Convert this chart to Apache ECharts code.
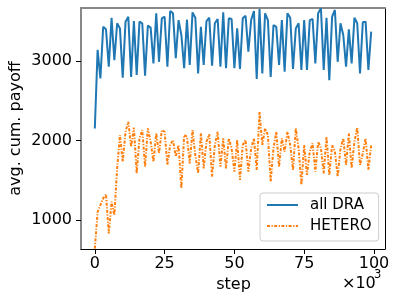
<!DOCTYPE html>
<html>
<head>
<meta charset="utf-8">
<script src="https://cdn.jsdelivr.net/npm/echarts@6.0.0/dist/echarts.min.js"></script>
<style>
html,body{margin:0;padding:0;background:#fff;}
#c{width:399px;height:303px;}
</style>
</head>
<body>
<div id="c"></div>
<script>
// step (x 10^3)
var steps = [0,1,2,3,4,5,6,7,8,9,10,11,12,13,14,15,16,17,18,19,20,21,22,23,24,25,26,27,28,29,30,31,32,33,34,35,36,37,38,39,40,41,42,43,44,45,46,47,48,49,50,51,52,53,54,55,56,57,58,59,60,61,62,63,64,65,66,67,68,69,70,71,72,73,74,75,76,77,78,79,80,81,82,83,84,85,86,87,88,89,90,91,92,93,94,95,96,97,98,99];
var allDRA = [2150,3140,2780,3430,3400,2930,3545,3010,3475,3410,2790,3495,3557,2800,3503,2824,3495,3475,2815,3445,3420,2970,3600,2990,3537,3557,2930,3630,3600,3035,3515,3327,2910,3520,2950,3612,3545,2845,3430,2950,3503,3545,2940,3475,3528,2930,3612,2910,3537,3528,2910,3410,2900,3537,3570,3117,3515,3630,2773,3655,2845,3600,3515,2800,3453,3430,2950,3515,2865,3600,3545,2900,3410,3475,2887,3515,2887,3515,3528,2970,3600,3663,2887,3545,2760,3557,3642,2990,3475,3327,2930,3400,2970,3545,3475,2845,3487,3495,2887,3370];
var hetero = [640,1100,1188,1273,1323,830,1230,1063,1650,2069,1733,2110,2236,1922,2161,1587,2027,2132,1670,2153,1985,1733,2090,1839,2132,2110,1692,1943,2006,1797,1943,1399,2069,2048,1713,2132,1817,1587,2090,1650,1985,2078,1545,1943,2110,1670,2027,1650,2027,1902,1608,2006,1503,1943,2006,1608,1902,2027,1629,2362,1943,2153,2069,1482,1902,2110,1670,2027,1860,2110,1943,1629,2153,1902,1440,1943,1566,1860,1964,1608,1985,1902,1587,2048,1566,1943,1860,1545,1902,2027,1692,2090,1650,1985,2161,1692,1839,2027,1629,1943];
var xTicks = [0,25,50,75,100];
var yTicks = [1000,2000,3000];

function pairs(xs, ys){ return xs.map(function(x,i){ return [x, ys[i]]; }); }

var chart = echarts.init(document.getElementById('c'), null, {renderer:'canvas'});
var font = 'DejaVu Sans';
chart.setOption({
  animation: false,
  backgroundColor: '#fff',
  textStyle: {fontFamily: font},
  grid: {left: 81, right: 14, top: 8, bottom: 54, containLabel: false},
  xAxis: [{
    type: 'value', min: -4.95, max: 103.95, position: 'bottom',
    axisLine: {show: true, onZero: false, lineStyle: {color: '#000', width: 1}},
    axisTick: {show: true, customValues: xTicks, length: 5, lineStyle: {color: '#000', width: 1}},
    axisLabel: {customValues: xTicks, fontSize: 16, color: '#000', margin: 7, fontFamily: font,
      formatter: function(v){ return String(v); }},
    splitLine: {show: false}
  },{
    type: 'value', min: -4.95, max: 103.95, position: 'top',
    axisLine: {show: true, onZero: false, lineStyle: {color: '#888', width: 2}},
    axisTick: {show: false}, axisLabel: {show: false}, splitLine: {show: false}
  }],
  yAxis: [{
    type: 'value', min: 635, max: 3667, position: 'left',
    axisLine: {show: true, onZero: false, lineStyle: {color: '#888', width: 2}},
    axisTick: {show: true, customValues: yTicks, length: 5, lineStyle: {color: '#000', width: 1}},
    axisLabel: {customValues: yTicks, fontSize: 16, color: '#000', margin: 9, fontFamily: font,
      formatter: function(v){ return String(v); }},
    splitLine: {show: false}
  },{
    type: 'value', min: 635, max: 3667, position: 'right',
    axisLine: {show: true, onZero: false, lineStyle: {color: '#000', width: 1}},
    axisTick: {show: false}, axisLabel: {show: false}, splitLine: {show: false}
  }],
  legend: {
    left: 260, top: 193, orient: 'vertical',
    data: ['all DRA', 'HETERO'],
    itemWidth: 31, itemHeight: 12, itemGap: 5,
    padding: [4, 7, 7, 6],
    borderColor: '#cccccc', borderWidth: 1, borderRadius: 3,
    backgroundColor: 'rgba(255,255,255,0.8)',
    itemStyle: {opacity: 0},
    textStyle: {fontSize: 15, color: '#000', fontFamily: font, lineHeight: 16, padding: [0,0,0,7]}
  },
  series: [{
    name: 'all DRA', type: 'line', data: pairs(steps, allDRA),
    showSymbol: false, symbol: 'none',
    lineStyle: {color: '#1f77b4', width: 2}, itemStyle: {color: '#1f77b4'}
  },{
    name: 'HETERO', type: 'line', data: pairs(steps, hetero),
    showSymbol: false, symbol: 'none',
    lineStyle: {color: '#ff7f0e', width: 2, type: [3, 1.5, 1.2, 1.5]}, itemStyle: {color: '#ff7f0e'}
  }],
  graphic: [
    {type: 'text', x: 15.5, y: 128.5, rotation: Math.PI/2,
     style: {text: 'avg. cum. payoff', fontSize: 16, fill: '#000', fontFamily: font, textAlign: 'center', textVerticalAlign: 'middle'}},
    {type: 'text', x: 233.5, y: 285, 
     style: {text: 'step', fontSize: 16, fill: '#000', fontFamily: font, textAlign: 'center', textVerticalAlign: 'middle'}},
    {type: 'text', x: 342, y: 283.5,
     style: {text: '×10', fontSize: 16, fill: '#000', fontFamily: font, textAlign: 'left', textVerticalAlign: 'middle'}},
    {type: 'text', x: 374, y: 275,
     style: {text: '3', fontSize: 11.5, fill: '#000', fontFamily: font, textAlign: 'left', textVerticalAlign: 'middle'}}
  ]
});
</script>
</body>
</html>
